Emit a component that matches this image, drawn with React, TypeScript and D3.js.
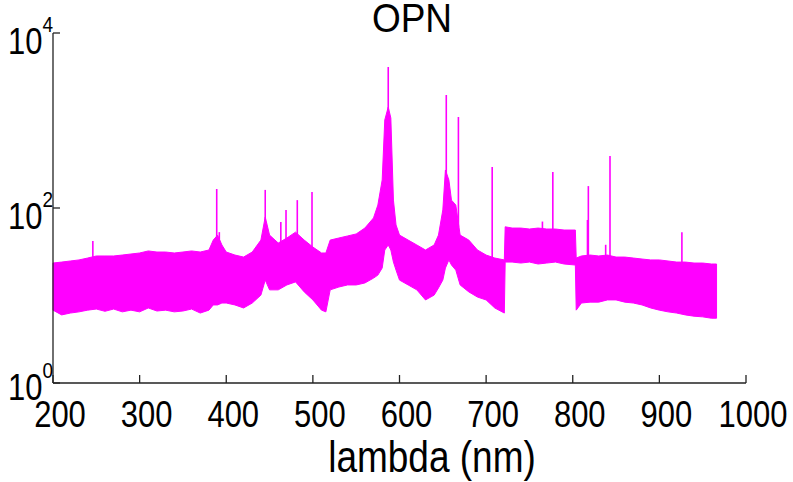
import React from "react";
import * as d3 from "d3";

const lambda = [200,210,220,230,240,250,260,270,280,290,300,310,320,330,340,350,360,370,380,385,390,395,400,410,420,430,440,445,450,460,470,480,490,500,510,515,520,530,540,550,560,570,575,580,583,587,590,593,596,600,610,620,630,640,645,650,653,657,660,665,670,680,690,700,710,721,722,730,740,750,760,770,780,790,803,804,810,820,830,840,850,860,870,880,890,900,910,920,930,940,950,960,966];
const upper = [23.5,24.1,24.8,25.5,26.8,28.3,28.3,28.3,29.0,29.8,30.6,32.3,31.4,31.4,30.6,31.4,32.3,31.4,33.1,43,49,37.8,31.4,29.0,27.5,31.4,43,79,49,39.8,45.4,53,43,35.8,30.6,30.6,43,45.4,47.9,50.5,59,77,108,209,1014,1426,1068,123,64,49,43,37.8,33.1,37.8,49,95,272,209,123,108,49,43,33.1,29.0,26.8,25.5,61,59,59,57.5,59,57.5,57.5,56,56,26.8,28.3,29.0,28.3,29.0,27.5,27.5,26.8,26.1,25.5,25.5,24.8,24.1,24.1,23.5,23.5,22.9,22.9];
const lower = [6.8,6.0,6.3,6.5,6.8,7.0,6.6,7.0,6.5,6.8,6.5,7.2,6.65,6.8,6.5,6.65,7.0,6.3,6.8,7.8,7.8,8.2,8.2,7.8,7.2,8.2,10.1,15,11.6,11.6,13.2,14.3,11.0,8.9,6.8,6.5,11.6,12.5,13.2,13.2,13.9,15.8,17.1,20.6,33.1,37.8,33.1,24.1,19.5,15,13.2,11.6,8.9,10.1,12.2,15,20.6,25.5,22.3,19.5,13.2,11.0,9.6,8.9,7.2,6.3,24.1,24.1,23.5,24.1,22.9,23.5,24.1,22.9,22.3,6.8,8.2,8.4,8.4,8.9,8.9,8.4,8.2,7.8,7.2,6.8,6.5,6.3,6.0,5.8,5.7,5.5,5.5];

const spikeLambda = [246,389,392,445,463,469,482,499,587,654,668,707,765,777,817,818,838,843,926];
const spikePeak = [42,165,53,161,69,95,123,152,4085,1955,1096,294,70,258,73,178,38,393,53];

const xTicks = [200,300,400,500,600,700,800,900,1000];
const yTicks = [1,100,10000];
const yTickExp = ["0","2","4"];

const W = 793, H = 482;
const FONT = "'Liberation Sans', Arial, Helvetica, sans-serif";
const SY = 1.2;

export default function App() {
  const x = d3.scaleLinear().domain([200, 1000]).range([53, 746]);
  const y = d3.scaleLog().domain([1, 10000]).range([383, 33]);
  const magenta = "#ff00ff";

  const pts = lambda.map((l, i) => ({ l, u: upper[i], lo: lower[i] }));
  const area = d3.area<any>()
    .x((d) => x(d.l))
    .y0((d) => y(d.lo))
    .y1((d) => y(d.u))(pts) || "";

  const bis = d3.bisector((d: any) => d.l).left;
  const bandAt = (l: number) => {
    const i = Math.max(1, Math.min(pts.length - 1, bis(pts, l)));
    const a = pts[i - 1], b = pts[i];
    const t = (l - a.l) / (b.l - a.l);
    return Math.exp(Math.log(a.u) * (1 - t) + Math.log(b.u) * t);
  };

  return (
    <svg width={W} height={H} style={{ position: "absolute", left: 0, top: 0, background: "#fff" }}>
      <path d={area} fill={magenta} stroke={magenta} strokeWidth={1} strokeLinejoin="miter" />
      {spikeLambda.map((l, i) => (
        <line key={i} x1={x(l)} x2={x(l)} y1={y(spikePeak[i])} y2={y(bandAt(l)) + 4}
          stroke={magenta} strokeWidth={1.6} />
      ))}
      {/* axes */}
      <line x1={53} x2={53} y1={y(10000)} y2={y(1)} stroke="#222" strokeWidth={1.3} />
      <line x1={53} x2={746} y1={y(1)} y2={y(1)} stroke="#222" strokeWidth={1.3} />
      {xTicks.map((t) => (
        <g key={t}>
          <line x1={x(t)} x2={x(t)} y1={383} y2={375} stroke="#222" strokeWidth={1.3} />
          <text transform={`translate(${x(t) + 7},${427}) scale(1,${SY})`} textAnchor="middle"
            fontFamily={FONT} fontSize={31} fill="#000">{t}</text>
        </g>
      ))}
      {yTicks.map((t, i) => {
        const dy = t === 1 ? -4 : 0;
        return (
          <g key={t}>
            <line x1={53} x2={60} y1={y(t)} y2={y(t)} stroke="#222" strokeWidth={1.3} />
            <text transform={`translate(${8},${y(t) + 21 + dy}) scale(1,${SY})`} textAnchor="start"
              fontFamily={FONT} fontSize={31} fill="#000">10</text>
            <text transform={`translate(${42.5},${y(t) - 1 + dy}) scale(1,${SY})`} textAnchor="start"
              fontFamily={FONT} fontSize={19} fill="#000">{yTickExp[i]}</text>
          </g>
        );
      })}
      <text transform={`translate(${432},${472}) scale(1,${SY})`} textAnchor="middle"
        fontFamily={FONT} fontSize={37} fill="#000">lambda (nm)</text>
      <text transform={`translate(${412},${32}) scale(1,1.1)`} textAnchor="middle"
        fontFamily={FONT} fontSize={37} fill="#000">OPN</text>
    </svg>
  );
}
